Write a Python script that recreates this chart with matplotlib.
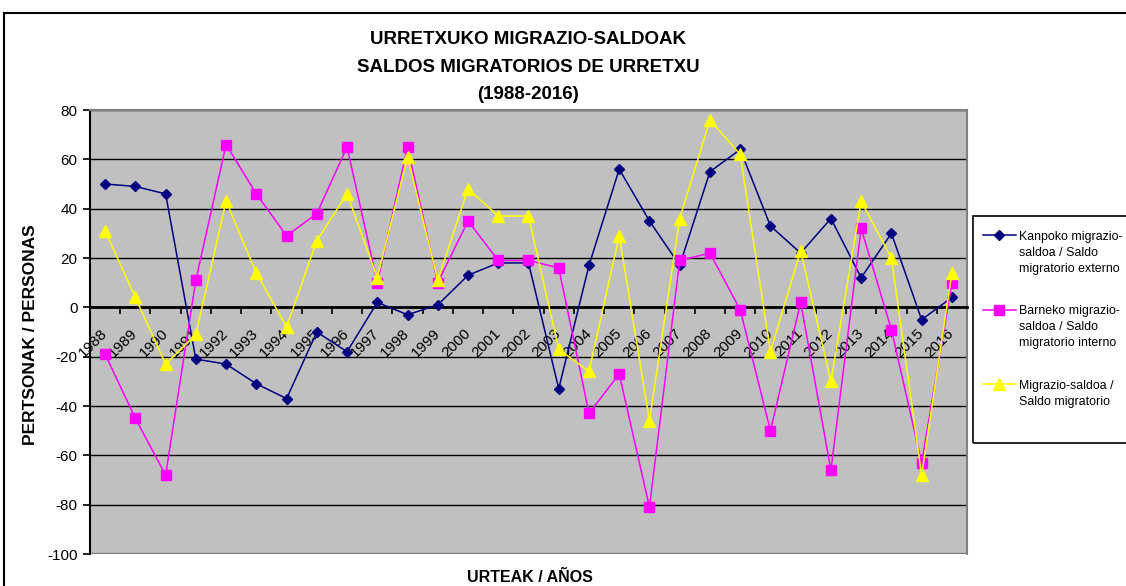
import numpy as np
import matplotlib
matplotlib.use("Agg")
from matplotlib import pyplot as plt
from matplotlib.patches import Rectangle

years = [str(y) for y in range(1988, 2017)]
kanpoko = [50, 49, 46, -21, -23, -31, -37, -10, -18, 2, -3, 1, 13, 18, 18, -33, 17, 56, 35, 17,
           55, 64, 33, 22, 36, 12, 30, -5, 4]
barneko = [-19, -45, -68, 11, 66, 46, 29, 38, 65, 10, 65, 10, 35, 19, 19, 16, -43, -27, -81, 19,
           22, -1, -50, 2, -66, 32, -9, -63, 10]
saldoa = [31, 4, -23, -11, 43, 14, -8, 27, 46, 12, 61, 11, 48, 37, 37, -17, -26, 29, -46, 36,
          76, 62, -18, 23, -30, 43, 20, -68, 14]
labels = ["Kanpoko migrazio-\nsaldoa / Saldo\nmigratorio externo",
          "Barneko migrazio-\nsaldoa / Saldo\nmigratorio interno",
          "Migrazio-saldoa /\nSaldo migratorio"]

plt.rcParams['font.family'] = ['Liberation Sans', 'DejaVu Sans']
plt.rcParams['axes.unicode_minus'] = False
W, H = 1126, 586
fig = plt.figure(figsize=(W / 100, H / 100), dpi=100)
ax = fig.add_axes([90 / W, 1 - 554 / H, (967 - 90) / W, (554 - 110) / H])
ax.set_facecolor('#c0c0c0')

x = np.arange(len(years))
ax.plot(x, kanpoko, color='#000080', marker='D', markersize=5.5, lw=1.1, label=labels[0], zorder=3)
ax.plot(x, barneko, color='#ff00ff', marker='s', markersize=7.5, lw=1.1, label=labels[1], zorder=4)
ax.plot(x, saldoa, color='#ffff00', marker='^', markersize=8, lw=1.1, label=labels[2], zorder=5)

ax.set_xlim(-0.5, len(years) - 0.5)
ax.set_ylim(-100, 80)
ax.set_yticks(range(-100, 81, 20))
ax.yaxis.grid(True, color='black', lw=1.0)
ax.set_axisbelow(True)

for s in ['top', 'right']:
    ax.spines[s].set_color('#808080')
    ax.spines[s].set_linewidth(1.5)
ax.spines['left'].set_linewidth(1.5)
ax.spines['bottom'].set_position(('data', 0))
ax.spines['bottom'].set_linewidth(2)
ax.spines['bottom'].set_zorder(2.5)
# gray border of the plot area at the bottom
ax.axhline(-100, color='#808080', lw=2.5, zorder=1)

ax.set_xticks(x)
ax.set_xticklabels(years, rotation=45, ha='right', va='center', rotation_mode='anchor', fontsize=11)
ax.set_xticks(x[:-1] + 0.5, minor=True)
ax.tick_params(axis='x', which='major', length=0, pad=17)
ax.tick_params(axis='x', which='minor', length=5, width=1.2, direction='out')
ax.tick_params(axis='y', length=5, width=1.2, labelsize=11, pad=4)

fig.text(31 / W, 1 - 335 / H, 'PERTSONAK / PERSONAS', rotation=90, ha='center', va='center',
         fontsize=12.5, fontweight='bold')
fig.text(530 / W, 1 - 577 / H, 'URTEAK / AÑOS', ha='center', va='center', fontsize=11.5, fontweight='bold')

title = 'URRETXUKO MIGRAZIO-SALDOAK\nSALDOS MIGRATORIOS DE URRETXU\n(1988-2016)'
fig.text(528 / W, 1 - 67 / H, title, ha='center', va='center', fontsize=13.5, fontweight='bold',
         linespacing=1.8)

# legend without its own frame; the box is drawn separately below
leg = fig.legend(loc='upper left', bbox_to_anchor=(983 / W, 1 - 231 / H), fontsize=8.9,
                 frameon=False, handlelength=2.65, handletextpad=0.3, labelspacing=2.45,
                 borderpad=0, borderaxespad=0)
for t in leg.get_texts():
    t.set_linespacing(1.45)
for hp in leg._legend_handle_box.get_children()[0].get_children():
    hp.align = 'top'
fig.add_artist(Rectangle((973 / W, 1 - 443 / H), 0.2, (443 - 216) / H, transform=fig.transFigure,
                         fill=False, edgecolor='black', lw=1.2, clip_on=False))

fig.add_artist(Rectangle((4 / W, -0.1), 1.2, 1 - 13 / H + 0.1, transform=fig.transFigure,
                         fill=False, edgecolor='black', lw=1.5, clip_on=False))

fig.savefig('out.png', dpi=100)
